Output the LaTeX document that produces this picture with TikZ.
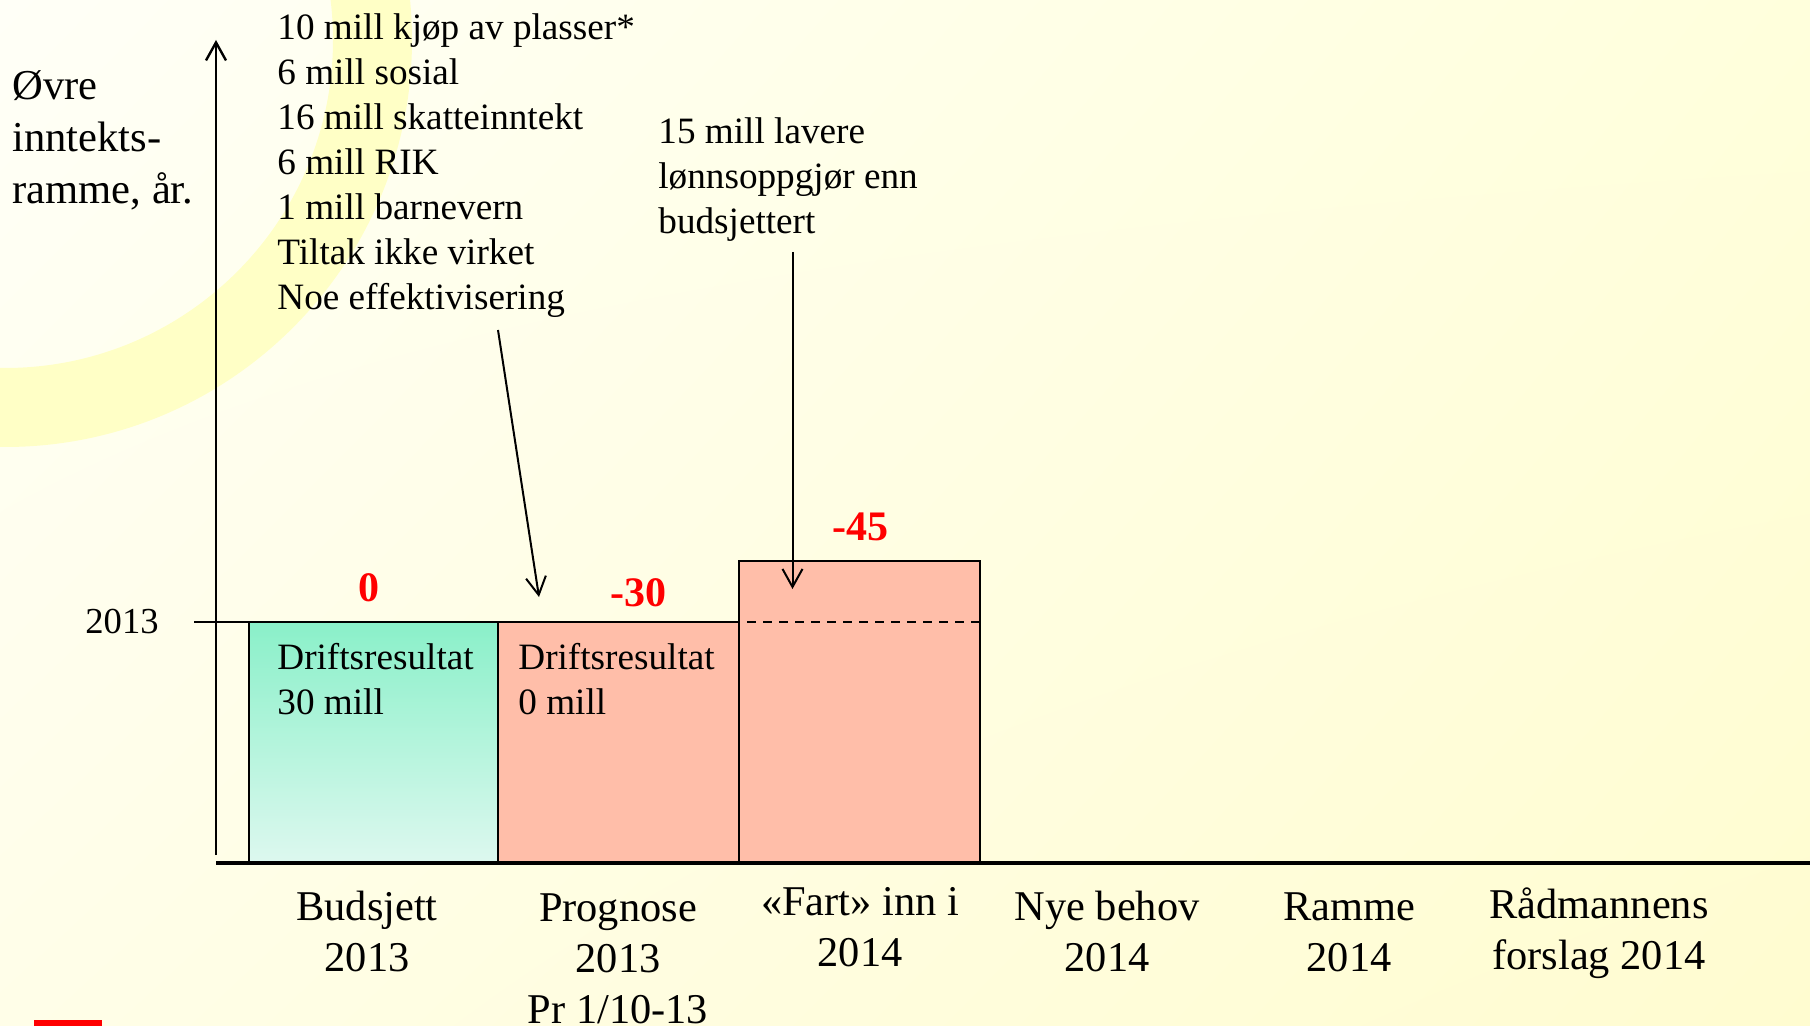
\documentclass[tikz,border=0pt]{standalone}
\usepackage{fontspec}
\setmainfont{Liberation Serif}
\usetikzlibrary{arrows.meta,shadings}

\definecolor{bgUL}{HTML}{FFFFF7}
\definecolor{bgUR}{HTML}{FFFFDC}
\definecolor{bgLL}{HTML}{FFFEE8}
\definecolor{bgLR}{HTML}{FFFCD0}
\definecolor{ringGul}{HTML}{FFFFC6}
\definecolor{mintTopp}{HTML}{8AF0C9}
\definecolor{mintBunn}{HTML}{DDF8EF}
\definecolor{laks}{HTML}{FFBEA9}

\begin{document}
\begin{tikzpicture}[x=0.5pt, y=-0.5pt,
    tekst/.style={anchor=north west, inner sep=0pt, align=left,
                  font=\fontsize{18.6}{22.5}\selectfont},
    etikett/.style={anchor=north, inner sep=0pt, align=center,
                    font=\fontsize{21.2}{25.5}\selectfont},
    tall/.style={inner sep=0pt, text=red, font=\fontsize{21}{21}\selectfont\bfseries},
    boks/.style={draw, line width=1.2pt, anchor=north west, inner sep=0pt, outer sep=0pt,
                 minimum width=120.5pt, minimum height=120.5pt},
    pil/.style={line width=1pt, -{Straight Barb[length=9pt, width=10pt, line width=1pt]}}]

      \useasboundingbox (0,0) rectangle (1810,1026);
      \begin{scope}
        \clip (0,0) rectangle (1810,1026);
        \shade [upper left=bgUL, upper right=bgUR, lower left=bgLL, lower right=bgLR]
          (0,0) rectangle (1810,1026);
        \fill [ringGul, even odd rule] (5,40) circle [radius=407] (5,40) circle [radius=328];
      \end{scope}
      \fill [red] (34,1020) rectangle (102,1026);

      \node[tekst, font=\fontsize{21.3}{26}\selectfont] (rammeN) at (12,70)
        {Øvre\\inntekts-\\ramme, år.};
      \node[tekst] (tiltakN) at (277,13)
        {10 mill kjøp av plasser*\\6 mill sosial\\16 mill skatteinntekt\\6 mill RIK\\1 mill barnevern\\Tiltak ikke virket\\Noe effektivisering};
      \node[tekst] (loennN)  at (658,117) {15 mill lavere\\lønnsoppgjør enn\\budsjettert};
      \node[inner sep=0pt, font=\fontsize{18.3}{22.5}\selectfont] (aarN) at (122,622) {2013};

      \node[boks, minimum width=124.5pt, top color=mintTopp, bottom color=mintBunn]
                                (budsjettB) at (249,622) {};
      \node[boks, fill=laks]    (prognoseB) at (498,622) {};
      \node[boks, fill=laks, minimum height=151pt]
                                (fartB)     at (739,561) {};

      \node[tekst] (budsjettT) at (277,643) {Driftsresultat\\30 mill};
      \node[tekst] (prognoseT) at (518,643) {Driftsresultat\\0 mill};

      \node[tall] (budsjettV) at (369,588) {0};
      \node[tall] (prognoseV) at (638,593) {-30};
      \node[tall] (fartV)     at (860,527) {-45};

      \node[etikett] (budsjettL) at (367,891)  {Budsjett\\2013};
      \node[etikett] (prognoseL) at (618,893)  {Prognose\\2013\\Pr 1/10-13};
      \node[etikett] (fartL)     at (860,887)  {«Fart» inn i\\2014};
      \node[etikett] (behovL)    at (1107,891) {Nye behov\\2014};
      \node[etikett] (rammeL)    at (1349,892) {Ramme\\2014};
      \node[etikett] (forslagL)  at (1599,887) {Rådmannens\\forslag 2014};

      \coordinate (origo)   at (216,855);
      \coordinate (yTopp)   at (216,40);
      \coordinate (xStart)  at (216,863);
      \coordinate (xSlutt)  at (1810,863);
      \coordinate (aarTikk) at (194,622);
      \coordinate (tiltakP) at (498,330);
      \coordinate (tiltakS) at (539,597);
      \coordinate (loennP)  at (792.5,252);
      \coordinate (loennS)  at (792.5,589);

      \draw [line width=1.3pt, -{Straight Barb[length=9pt, width=10pt, line width=1.2pt]}]
            (origo) -- (yTopp);
      \draw [line width=1.6pt] (xStart) -- (xSlutt);
      \draw [line width=1.4pt] (aarTikk) -- (prognoseB.north east);
      \draw [line width=1.2pt, dash pattern=on 4.5pt off 3.5pt, dash phase=-4pt]
            (fartB.west |- prognoseB.north) -- (fartB.east |- prognoseB.north);

      \draw [pil] (tiltakP) -- (tiltakS);
      \draw [pil] (loennP)  -- (loennS);
    \end{tikzpicture}
\end{document}
